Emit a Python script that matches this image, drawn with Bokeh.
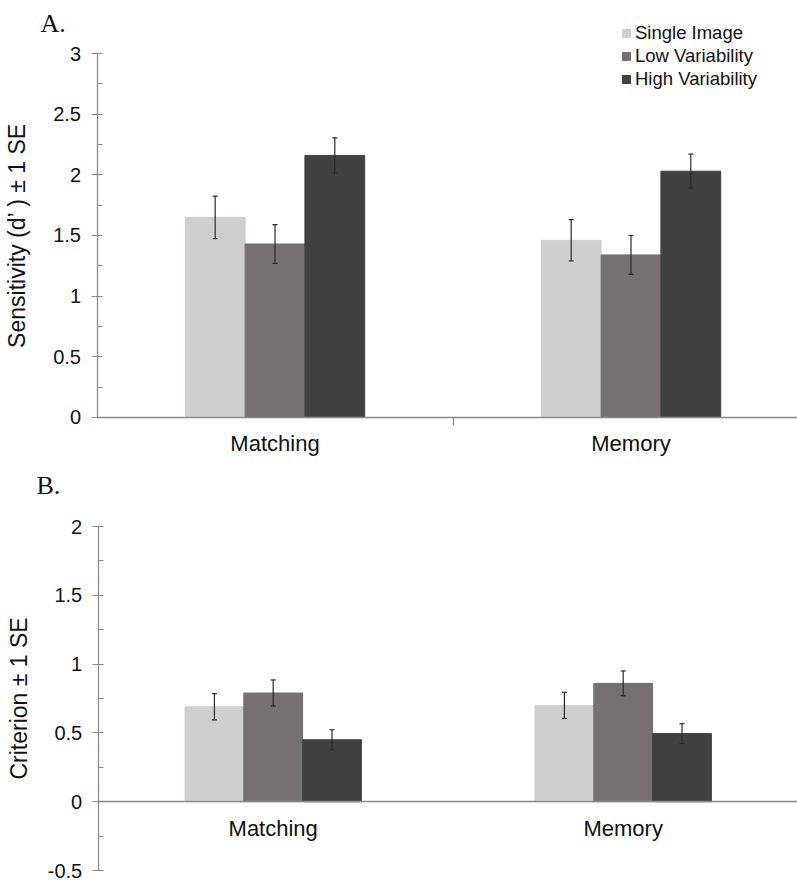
from bokeh.plotting import figure
from bokeh.models import (Range1d, FixedTicker, Whisker, TeeHead, ColumnDataSource,
                          Legend, LegendItem, Label, LinearAxis)
from bokeh.layouts import column
from bokeh.embed import file_html
from bokeh.resources import INLINE

# ---------------- data ----------------
categories = ["Matching", "Memory"]
conditions = ["Single Image", "Low Variability", "High Variability"]
colors = ["#d0cecf", "#767070", "#404040"]

# Panel A: sensitivity d'
dprime_single = [1.65, 1.46]
dprime_low = [1.43, 1.34]
dprime_high = [2.16, 2.03]
dprime_single_se = [0.175, 0.17]
dprime_low_se = [0.16, 0.16]
dprime_high_se = [0.145, 0.14]

# Panel B: criterion
crit_single = [0.69, 0.70]
crit_low = [0.79, 0.86]
crit_high = [0.45, 0.495]
crit_single_se = [0.095, 0.095]
crit_low_se = [0.095, 0.09]
crit_high_se = [0.073, 0.072]

ytick_vals_A = [0, 0.5, 1, 1.5, 2, 2.5, 3]
ytick_labels_A = ["0", "0.5", "1", "1.5", "2", "2.5", "3"]
ytick_vals_B = [-0.5, 0, 0.5, 1, 1.5, 2]
ytick_labels_B = ["-0.5", "0", "0.5", "1", "1.5", "2"]

# ---------------- style ----------------
AX = "#8a8a8a"
TXT = "#111111"
FONT = "Liberation Sans"
SERIF = "Liberation Serif"
W = 797
BAR_W = 0.168
offsets = [-BAR_W, 0.0, BAR_W]
cat_pos = [i + 0.5 for i in range(len(categories))]
boundaries = [float(i) for i in range(1, len(categories))]


def base_fig(height, x_start, x_end, y_start, y_end):
    p = figure(width=W, height=height, x_range=Range1d(x_start, x_end),
               y_range=Range1d(y_start, y_end), output_backend="svg",
               toolbar_location=None, min_border=0, min_border_left=0,
               min_border_right=0, min_border_top=0, min_border_bottom=0,
               x_axis_type=None, y_axis_type=None)
    p.outline_line_color = None
    p.grid.visible = False
    p.background_fill_color = "white"
    p.border_fill_color = "white"
    return p


def add_yaxis(p, ticks, labels, label_text, title_standoff):
    step = ticks[1] - ticks[0]
    ax = LinearAxis(fixed_location=0,
                    ticker=FixedTicker(ticks=ticks,
                                       minor_ticks=[t + step / 2 for t in ticks[:-1]]),
                    bounds=(ticks[0], ticks[-1]),
                    major_label_overrides={t: l for t, l in zip(ticks, labels)})
    ax.axis_line_color = AX
    ax.axis_line_width = 1.3
    ax.major_tick_line_color = AX
    ax.minor_tick_line_color = AX
    ax.major_tick_out = 6
    ax.major_tick_in = 5
    ax.minor_tick_out = 0
    ax.minor_tick_in = 5
    ax.major_label_standoff = 10
    ax.major_label_text_font = FONT
    ax.major_label_text_font_size = "20px"
    ax.major_label_text_color = TXT
    ax.axis_label = label_text
    ax.axis_label_text_font = FONT
    ax.axis_label_text_font_style = "normal"
    ax.axis_label_text_font_size = "23px"
    ax.axis_label_text_color = TXT
    ax.axis_label_standoff = title_standoff
    p.add_layout(ax, "left")


def add_xaxis(p, x_end, boundary_ticks):
    ax = LinearAxis(fixed_location=0, ticker=FixedTicker(ticks=cat_pos),
                    bounds=(0, x_end),
                    major_label_overrides={c: n for c, n in zip(cat_pos, categories)})
    ax.axis_line_color = AX
    ax.axis_line_width = 1.3
    ax.major_tick_line_color = None
    ax.minor_tick_line_color = None
    ax.major_tick_out = 0
    ax.major_tick_in = 0
    ax.major_label_standoff = 14
    ax.major_label_text_font = FONT
    ax.major_label_text_font_size = "22px"
    ax.major_label_text_color = TXT
    p.add_layout(ax, "below")
    if boundary_ticks:
        bx = LinearAxis(fixed_location=0, ticker=FixedTicker(ticks=boundary_ticks),
                        major_label_overrides={b: "" for b in boundary_ticks})
        bx.axis_line_color = None
        bx.major_tick_line_color = AX
        bx.major_tick_line_width = 1.3
        bx.major_tick_out = 8
        bx.major_tick_in = 0
        bx.minor_tick_line_color = None
        p.add_layout(bx, "below")


def draw_bars(p, series, ses):
    renderers = []
    for k, (vals, se) in enumerate(zip(series, ses)):
        xs = [c + offsets[k] for c in cat_pos]
        src = ColumnDataSource(dict(x=xs, top=vals,
                                    upper=[v + s for v, s in zip(vals, se)],
                                    lower=[v - s for v, s in zip(vals, se)]))
        r = p.vbar(x="x", top="top", bottom=0, width=BAR_W, source=src,
                   fill_color=colors[k], line_color=colors[k])
        renderers.append(r)
        w = Whisker(base="x", upper="upper", lower="lower", source=src,
                    line_color="#2a2a2a", line_width=1.2, level="overlay",
                    upper_head=TeeHead(size=5, line_color="#2a2a2a", line_width=1.2),
                    lower_head=TeeHead(size=5, line_color="#2a2a2a", line_width=1.2))
        p.add_layout(w)
    return renderers


# ---------------- Panel A ----------------
uA = 356.0      # px per category
kA = 121.33     # px per unit of d'
xA0 = -96.5 / uA
xA1 = xA0 + W / uA
yA1 = 3 + 53 / kA
yA0 = yA1 - 468 / kA
pA = base_fig(468, xA0, xA1, yA0, yA1)
rA = draw_bars(pA, [dprime_single, dprime_low, dprime_high],
               [dprime_single_se, dprime_low_se, dprime_high_se])
add_yaxis(pA, ytick_vals_A, ytick_labels_A, "Sensitivity (d\u2019 ) \u00b1 1 SE", 21)
add_xaxis(pA, xA1, boundaries)

legend = Legend(items=[LegendItem(label=c, renderers=[r]) for c, r in zip(conditions, rA)],
                location=(621, 378), orientation="vertical",
                label_text_font=FONT, label_text_font_size="18.5px",
                label_text_color=TXT, glyph_width=10, glyph_height=10,
                label_height=23, label_standoff=4, spacing=0, padding=0, margin=0,
                border_line_color=None, background_fill_alpha=0)
pA.add_layout(legend)
pA.add_layout(Label(x=(40 - 96.5) / uA, y=3 + (53 - 22.5) / kA, text="A.",
                    text_font=SERIF, text_font_size="26px", text_baseline="middle",
                    text_color=TXT))

# ---------------- Panel B ----------------
HB = 414
uB = 350.0
kB = 137.6
xB0 = -97.7 / uB
xB1 = xB0 + W / uB
yB1 = 2 + 58 / kB
yB0 = yB1 - HB / kB
pB = base_fig(HB, xB0, xB1, yB0, yB1)
draw_bars(pB, [crit_single, crit_low, crit_high],
          [crit_single_se, crit_low_se, crit_high_se])
add_yaxis(pB, ytick_vals_B, ytick_labels_B, "Criterion \u00b1 1 SE", 13)
add_xaxis(pB, xB1, [])
pB.add_layout(Label(x=(36 - 97.7) / uB, y=2 + (526 - 485) / kB, text="B.",
                    text_font=SERIF, text_font_size="26px", text_baseline="middle",
                    text_color=TXT))

layout = column(pA, pB, spacing=0)
open("out.html", "w").write(file_html(layout, INLINE))
